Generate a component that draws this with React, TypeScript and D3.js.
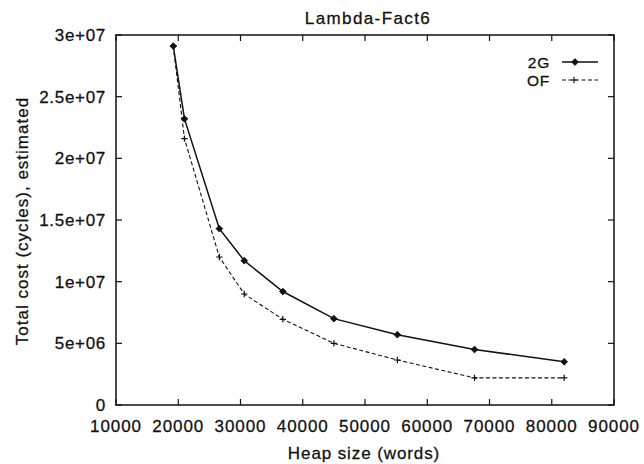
import React from "react";
import * as d3 from "d3";

const heapSizes = [19200, 21000, 26600, 30600, 36800, 45000, 55200, 67600, 82000];
const cost2G = [2.91e7, 2.32e7, 1.43e7, 1.17e7, 9.2e6, 7.0e6, 5.7e6, 4.5e6, 3.5e6];
const costOF = [2.91e7, 2.16e7, 1.2e7, 9.0e6, 6.95e6, 5.0e6, 3.65e6, 2.2e6, 2.2e6];
const xTicks = [10000, 20000, 30000, 40000, 50000, 60000, 70000, 80000, 90000];
const yTicks = [0, 5e6, 1e7, 1.5e7, 2e7, 2.5e7, 3e7];
const yTickLabels = ["0", "5e+06", "1e+07", "1.5e+07", "2e+07", "2.5e+07", "3e+07"];
const seriesNames = ["2G", "OF"];

const W = 644;
const H = 464;
const left = 116;
const right = 614;
const top = 35;
const bottom = 405;
const FONT = "'Liberation Sans', Arial, Helvetica, sans-serif";
const INK = "#111";

export default function App() {
  const x = d3.scaleLinear().domain([10000, 90000]).range([left, right]);
  const y = d3.scaleLinear().domain([0, 3e7]).range([bottom, top]);

  const pts2G = heapSizes.map((h, i) => [x(h), y(cost2G[i])] as [number, number]);
  const ptsOF = heapSizes.map((h, i) => [x(h), y(costOF[i])] as [number, number]);
  const line = d3.line();

  const tick = 6;
  const diamond = (cx: number, cy: number, r = 3.4) =>
    `M${cx},${cy - r}L${cx + r},${cy}L${cx},${cy + r}L${cx - r},${cy}Z`;
  const plus = (cx: number, cy: number, r = 3.2) =>
    `M${cx - r},${cy}H${cx + r}M${cx},${cy - r}V${cy + r}`;

  const legX1 = 562;
  const legX2 = 598;
  const legY = [62, 80];
  const txt = { fill: INK, stroke: INK, strokeWidth: 0.28, fontSize: 17 };

  return (
    <svg
      width={W}
      height={H}
      style={{ position: "absolute", left: 0, top: 0, background: "#fff" }}
      fontFamily={FONT}
    >
      <rect x={0} y={0} width={W} height={H} fill="#fff" />
      <text x={368} y={24} textAnchor="middle" letterSpacing={1.4} {...txt}>
        Lambda-Fact6
      </text>
      <rect x={left} y={top} width={right - left} height={bottom - top} fill="none" stroke={INK} strokeWidth={1.5} />
      {xTicks.map((t) => (
        <g key={"x" + t}>
          <line x1={x(t)} x2={x(t)} y1={bottom} y2={bottom - tick} stroke={INK} strokeWidth={1.2} />
          <line x1={x(t)} x2={x(t)} y1={top} y2={top + tick} stroke={INK} strokeWidth={1.2} />
          <text x={x(t)} y={432} textAnchor="middle" letterSpacing={0.9} {...txt}>
            {String(t)}
          </text>
        </g>
      ))}
      {yTicks.map((t, i) => (
        <g key={"y" + t}>
          <line x1={left} x2={left + tick} y1={y(t)} y2={y(t)} stroke={INK} strokeWidth={1.2} />
          <line x1={right} x2={right - tick} y1={y(t)} y2={y(t)} stroke={INK} strokeWidth={1.2} />
          <text x={106} y={y(t)} dy="0.36em" textAnchor="end" letterSpacing={0.7} {...txt}>
            {yTickLabels[i]}
          </text>
        </g>
      ))}
      <text x={364} y={459} textAnchor="middle" letterSpacing={0.9} {...txt}>
        Heap size (words)
      </text>
      <text
        transform={`translate(28,${(top + bottom) / 2 + 1}) rotate(-90)`}
        textAnchor="middle"
        letterSpacing={1.0}
        {...txt}
      >
        Total cost (cycles), estimated
      </text>
      <path d={line(pts2G) || ""} fill="none" stroke={INK} strokeWidth={1.5} />
      <path d={line(ptsOF) || ""} fill="none" stroke={INK} strokeWidth={1.1} strokeDasharray="4,2.5" />
      {pts2G.map((p, i) => (
        <path key={"m2" + i} d={diamond(p[0], p[1])} fill={INK} stroke={INK} strokeWidth={0.8} />
      ))}
      {ptsOF.map((p, i) => (
        <path key={"mo" + i} d={plus(p[0], p[1])} fill="none" stroke={INK} strokeWidth={1.2} />
      ))}
      {seriesNames.map((name, i) => (
        <g key={name}>
          <text
            x={550}
            y={legY[i]}
            dy="0.36em"
            textAnchor="end"
            letterSpacing={0.8}
            {...txt}
            fontSize={15.5}
          >
            {name}
          </text>
          <line
            x1={legX1}
            x2={legX2}
            y1={legY[i]}
            y2={legY[i]}
            stroke={INK}
            strokeWidth={i === 0 ? 1.5 : 1.1}
            strokeDasharray={i === 0 ? undefined : "4,2.5"}
          />
          {i === 0 ? (
            <path d={diamond(575, legY[i])} fill={INK} stroke={INK} strokeWidth={0.8} />
          ) : (
            <path d={plus(574, legY[i])} fill="none" stroke={INK} strokeWidth={1.2} />
          )}
        </g>
      ))}
    </svg>
  );
}
